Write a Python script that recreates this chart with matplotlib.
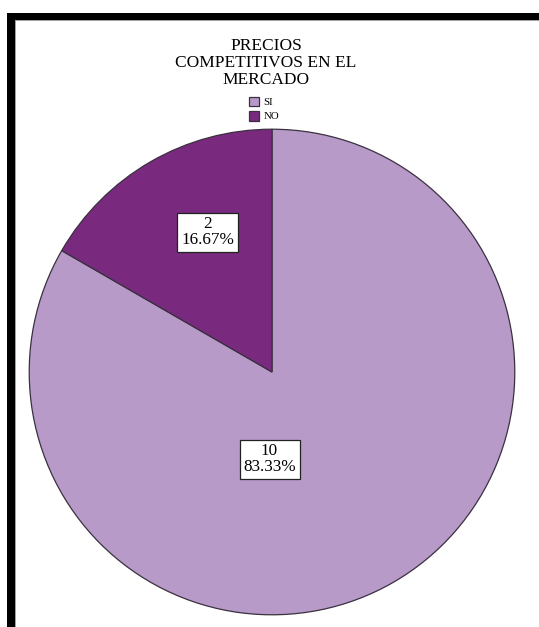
import matplotlib
matplotlib.use('Agg')
import matplotlib.pyplot as plt
from matplotlib.patches import Rectangle

# datos de la pregunta
categorias = ['SI', 'NO']
frecuencias = [10, 2]
porcentajes = ['83.33%', '16.67%']
colores = ['#b89ac9', '#7a2a7e']
# posición de cada etiqueta dentro del círculo (radio = 1)
pos_etiquetas = [(-0.01, -0.36), (-0.265, 0.575)]

plt.rcParams['font.family'] = ['Liberation Serif', 'DejaVu Serif']

W, H = 539, 627
fig = plt.figure(figsize=(W / 100, H / 100), dpi=100)
fig.patch.set_facecolor('white')

# marco negro superior e izquierdo
fig.add_artist(Rectangle((7 / W, 1 - 20 / H), 1 - 7 / W, 7 / H,
                         transform=fig.transFigure, color='black', lw=0))
fig.add_artist(Rectangle((7 / W, 0), 8 / W, 1 - 13 / H,
                         transform=fig.transFigure, color='black', lw=0))
fig.add_artist(Rectangle((15 / W, 1 - 21 / H), 1 - 15 / W, 1 / H,
                         transform=fig.transFigure, color='#a0a0a0', lw=0))
fig.add_artist(Rectangle((15 / W, 0), 1 / W, 1 - 21 / H,
                         transform=fig.transFigure, color='#a0a0a0', lw=0))

cx, cy, r = 272, 372, 244
ax = fig.add_axes([(cx - r) / W, (H - cy - r) / H, 2 * r / W, 2 * r / H])
wedges, _ = ax.pie(frecuencias, colors=colores, startangle=90, counterclock=False,
                   radius=1, wedgeprops=dict(edgecolor='#3a3040', linewidth=0.9))
ax.set_xlim(-1.005, 1.005)
ax.set_ylim(-1.005, 1.005)
ax.axis('off')

for (x, y), n, p in zip(pos_etiquetas, frecuencias, porcentajes):
    ax.text(x, y, f'{n}\n{p}', ha='center', va='center', fontsize=12.3,
            linespacing=1.0, color='black',
            bbox=dict(boxstyle='square,pad=0.22', facecolor='white',
                      edgecolor='#222222', linewidth=0.9))

fig.text(266 / W, 1 - 63 / H, 'PRECIOS\nCOMPETITIVOS EN EL\nMERCADO',
         ha='center', va='center', fontsize=12.5, linespacing=1.08)

fig.legend(wedges, categorias, loc='upper left',
           bbox_to_anchor=(241 / W, 1 - 89 / H), frameon=False,
           fontsize=7.8, handlelength=1.0, handleheight=1.0,
           handletextpad=0.35, labelspacing=0.35, borderpad=0.2)

fig.savefig('out.png', dpi=100)
